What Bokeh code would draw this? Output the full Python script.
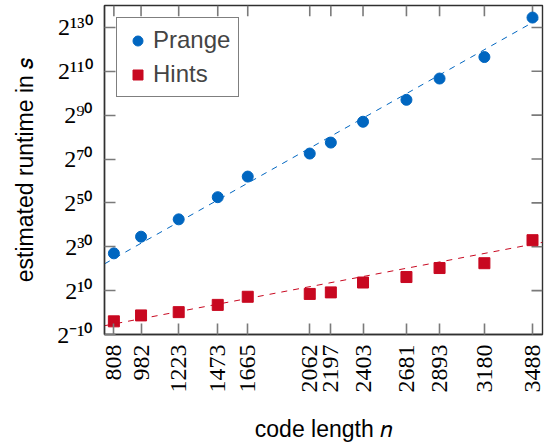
import numpy as np
from bokeh.plotting import figure
from bokeh.models import FixedTicker, Range1d, Legend, LegendItem
from bokeh.embed import file_html
from bokeh.resources import INLINE

# ---- data (y values are log2 of runtime) ----
code_length = [808, 982, 1223, 1473, 1665, 2062, 2197, 2403, 2681, 2893, 3180, 3488]
prange_log2 = [27.0, 34.6, 42.5, 52.6, 62.0, 72.5, 77.5, 87.0, 97.0, 106.7, 116.5, 134.5]
hints_log2 = [-4.0, -1.3, 0.2, 3.5, 7.2, 8.5, 9.2, 13.7, 16.2, 20.3, 22.5, 33.0]

# dashed trend lines (log2 value at the two ends of the x range)
trend_x = [748, 3552]
prange_trend = [22.2, 134.8]
hints_trend = [-6.0, 32.0]

y_limits = [-10, 140]
y_ticks = [-10, 10, 30, 50, 70, 90, 110, 130]
y_tick_labels = ["2\u207b\u00b9\u2070", "2\u00b9\u2070", "2\u00b3\u2070", "2\u2075\u2070",
                 "2\u2077\u2070", "2\u2079\u2070", "2\u00b9\u00b9\u2070", "2\u00b9\u00b3\u2070"]

BLUE = "#0066C0"
RED = "#C80820"
AXIS = "#303030"
TICK = "#7a7a7a"
SERIF = "Liberation Serif"
SANS = "Liberation Sans"

W, H = 551, 444
BL, BR, BT, BB = 104, 9, 5, 106
TICK_LEN = 11

p = figure(width=W, height=H, output_backend="svg", toolbar_location=None,
           x_range=Range1d(trend_x[0], trend_x[1]), y_range=Range1d(y_limits[0], y_limits[1]),
           min_border_left=BL, min_border_right=BR, min_border_top=BT, min_border_bottom=BB,
           x_axis_label="code length \U0001D45B", y_axis_label="estimated runtime in \U0001D460")
p.background_fill_color = "white"
p.border_fill_color = "white"
p.outline_line_color = AXIS
p.outline_line_width = 1.4
p.xgrid.visible = False
p.ygrid.visible = False

p.xaxis.ticker = FixedTicker(ticks=code_length)
p.yaxis.ticker = FixedTicker(ticks=y_ticks)
p.yaxis.major_label_overrides = {t: s for t, s in zip(y_ticks, y_tick_labels)}
p.xaxis.major_label_orientation = np.pi / 2

for ax in (p.xaxis[0], p.yaxis[0]):
    ax.major_tick_in = TICK_LEN
    ax.major_tick_out = 0
    ax.minor_tick_in = 0
    ax.minor_tick_out = 0
    ax.major_tick_line_color = TICK
    ax.major_tick_line_width = 1.6
    ax.axis_line_color = AXIS
    ax.axis_line_width = 1.4
    ax.major_label_text_font = SERIF
    ax.major_label_text_font_size = "24px"
    ax.major_label_text_color = "black"
    ax.axis_label_text_font = SANS
    ax.axis_label_text_font_size = "23px"
    ax.axis_label_text_font_style = "normal"
    ax.axis_label_text_color = "black"
p.yaxis.major_label_standoff = 12
p.yaxis.axis_label_standoff = 16
p.xaxis.major_label_standoff = 10
p.xaxis.axis_label_standoff = 20

# mirrored inward ticks on the top and right edges
frame_w = W - BL - BR
frame_h = H - BT - BB
dy = TICK_LEN * (y_limits[1] - y_limits[0]) / frame_h
dx = TICK_LEN * (trend_x[1] - trend_x[0]) / frame_w
n_x = len(code_length)
n_y = len(y_ticks)
p.segment(x0=code_length, y0=[y_limits[1]] * n_x, x1=code_length, y1=[y_limits[1] - dy] * n_x,
          line_color=TICK, line_width=1.6)
p.segment(x0=[trend_x[1]] * n_y, y0=y_ticks, x1=[trend_x[1] - dx] * n_y, y1=y_ticks,
          line_color=TICK, line_width=1.6)

# trend lines
p.line(trend_x, prange_trend, line_color=BLUE, line_width=1, line_dash="6 6")
p.line(trend_x, hints_trend, line_color=RED, line_width=1, line_dash="6 6")

r1 = p.scatter(code_length, prange_log2, marker="circle", size=11,
               fill_color=BLUE, line_color=BLUE)
r2 = p.scatter(code_length, hints_log2, marker="square", size=11,
               fill_color=RED, line_color=RED)

legend = Legend(items=[LegendItem(label="Prange", renderers=[r1]),
                       LegendItem(label="Hints", renderers=[r2])],
                location="top_left")
legend.margin = 12
legend.padding = 8
legend.spacing = 6
legend.glyph_width = 25
legend.glyph_height = 25
legend.label_standoff = 3
legend.label_text_font = SANS
legend.label_text_font_size = "24px"
legend.border_line_color = "black"
legend.border_line_width = 1
legend.background_fill_color = "white"
legend.background_fill_alpha = 1.0
p.add_layout(legend, "center")

open("out.html", "w").write(file_html(p, INLINE))
